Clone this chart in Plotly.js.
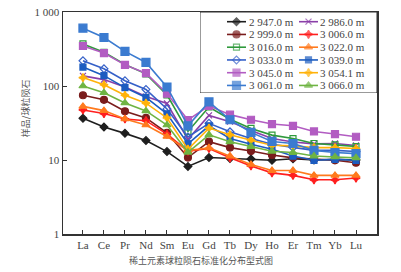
<!DOCTYPE html>
<html><head><meta charset="utf-8">
<script src="https://cdn.plot.ly/plotly-3.0.1.min.js"></script>
<style>html,body{margin:0;padding:0;background:#fff}#chart{width:401px;height:272px}</style>
</head><body><div id="chart"></div>
<script>
var categories = ['La','Ce','Pr','Nd','Sm','Eu','Gd','Tb','Dy','Ho','Er','Tm','Yb','Lu'];
var names = ['2 947.0 m','2 986.0 m','2 999.0 m','3 006.0 m','3 016.0 m','3 022.0 m','3 033.0 m','3 039.0 m','3 045.0 m','3 054.1 m','3 061.0 m','3 066.0 m'];
var s2947 = [36.6, 27.9, 22.9, 18.3, 13.0, 8.2, 10.8, 10.5, 10.3, 9.9, 10.4, 10.0, 10.2, 10.0];
var s2986 = [137, 122, 97, 72, 58, 19, 40, 33, 25, 19.5, 17.5, 16.5, 16.7, 15.7];
var s2999 = [75, 65, 45.6, 37, 23.3, 10.8, 17.7, 14.7, 13.2, 11.7, 10.7, 10.2, 9.9, 9.2];
var s3006 = [47.5, 42.4, 35.8, 34, 22.4, 13.2, 14.3, 10.7, 8.3, 6.7, 6.2, 5.4, 5.4, 5.7];
var s3016 = [370, 285, 195, 146, 76, 24.3, 52, 35.5, 26.7, 21.7, 19.5, 16.7, 16.0, 15.2];
var s3022 = [53, 46.5, 35.8, 29.7, 20.8, 13.4, 14.6, 11.3, 8.7, 7.2, 7.2, 6.2, 6.2, 6.2];
var s3033 = [219, 171, 118, 90, 49, 20.5, 31.3, 24, 19.5, 16.3, 14.8, 13.5, 13.5, 13.0];
var s3039 = [180, 138, 95, 70, 42, 16.5, 29, 19.5, 16.3, 14.0, 11.3, 9.9, 10.2, 9.9];
var s3045 = [347, 279, 193, 149, 79, 34.7, 54, 41, 35, 30.6, 29, 24.3, 22.4, 20.6];
var s3054 = [130, 104, 75, 58.6, 37, 14.0, 27, 21.9, 18.5, 15.8, 15.5, 14.7, 14.7, 14.3];
var s3061 = [605, 452, 294, 208, 97, 29, 61, 35, 23.6, 17.8, 16.7, 13.5, 12.6, 12.2];
var s3066 = [100, 81, 59, 46, 29.7, 12.7, 21.9, 17.6, 15.2, 13.1, 12.6, 11.3, 11.0, 10.7];
var series = [s2947, s2986, s2999, s3006, s3016, s3022, s3033, s3039, s3045, s3054, s3061, s3066];
var colors = ['#1e1e1e','#8a3fa8','#7a1c1c','#ff1f1f','#2f9a3c','#ff7a1e','#3560c8','#1c5cc0','#b25cc2','#ffb20a','#3b7bd0','#6fb443'];
var symbols = ['diamond','x-thin-open','circle','star-diamond','square-open','triangle-up','diamond-open','square','square','star-diamond','square','triangle-up'];
var sizes = [6,6,7,6,6,7,6,6,7,6,8,7];
var yTickVals = [1,10,100,1000];
var yTickText = ['1','10','100','1 000'];

// legend box layout (pixel units inside the legend area)
var LEG_W = 177, LEG_H = 81;
var legColLine = [[27, 46], [99, 118]];
var legColText = [48, 119];
var legRow0 = 9.7, legRowStep = 12.75;

var traces = series.map(function(s,i){
  return {
    x: categories, y: s, name: names[i], type: 'scatter', mode: 'lines+markers',
    line: {color: colors[i], width: 1.6},
    marker: {color: colors[i], symbol: symbols[i], size: sizes[i], line: {color: colors[i], width: 1.2}},
    showlegend: false
  };
});

var legendAnn = [];
series.forEach(function(s,i){
  var c = i % 2, r = Math.floor(i / 2);
  var ly = legRow0 + r * legRowStep;
  var lx0 = legColLine[c][0], lx1 = legColLine[c][1];
  traces.push({
    x: [lx0, (lx0 + lx1) / 2, lx1], y: [ly, ly, ly], xaxis: 'x2', yaxis: 'y2',
    type: 'scatter', mode: 'lines+markers', showlegend: false, cliponaxis: false, hoverinfo: 'skip',
    line: {color: colors[i], width: 1.6},
    marker: {color: colors[i], symbol: symbols[i], size: [0, sizes[i], 0], line: {color: colors[i], width: 1.2}}
  });
  legendAnn.push({text: names[i], xref: 'x2', yref: 'y2', x: legColText[c], y: ly, xanchor: 'left', yanchor: 'middle',
    showarrow: false, borderpad: 0, font: {family: 'Liberation Serif, serif', size: 11, color: '#444'}});
});

var serif = 'Liberation Serif, Times New Roman, serif';
var legX0 = 0.4363, legY0 = 1 - LEG_H / 222;
var layout = {
  width: 401, height: 272,
  margin: {l: 63, r: 24, t: 12, b: 38},
  paper_bgcolor: '#fff', plot_bgcolor: 'rgba(0,0,0,0)',
  showlegend: false,
  font: {family: serif, size: 11, color: '#444'},
  xaxis: {type: 'category', range: [-0.95, 14], showgrid: false, zeroline: false,
    showline: true, linecolor: '#333', linewidth: 1.5, mirror: true,
    ticks: 'inside', ticklen: 4, tickcolor: '#333', tickfont: {family: serif, size: 11, color: '#444'}},
  yaxis: {type: 'log', range: [0, 3], showgrid: false, zeroline: false,
    showline: true, linecolor: '#333', linewidth: 1.5, mirror: true,
    ticks: 'inside', ticklen: 4, tickcolor: '#333',
    tickvals: yTickVals, ticktext: yTickText, tickfont: {family: serif, size: 11, color: '#444'}},
  xaxis2: {domain: [legX0, 1], anchor: 'y2', range: [0, LEG_W], visible: false, fixedrange: true},
  yaxis2: {domain: [legY0, 1], anchor: 'x2', range: [LEG_H, 0], visible: false, fixedrange: true},
  shapes: [
    {type: 'rect', xref: 'x2', yref: 'y2', x0: 0, x1: LEG_W, y0: 0, y1: LEG_H,
     line: {color: '#333', width: 1}, fillcolor: '#fff', layer: 'below'}
  ],
  annotations: [
    {text: '样品/球粒陨石', xref: 'paper', yref: 'paper', x: -0.121, y: 0.567, xanchor: 'center', yanchor: 'middle',
     textangle: -90, showarrow: false, font: {family: 'Noto Sans CJK SC', size: 9, color: '#555'}},
    {text: '稀土元素球粒陨石标准化分布型式图', xref: 'paper', yref: 'paper', x: 0.438, y: -0.12,
     yanchor: 'middle', showarrow: false, font: {family: 'Noto Sans CJK SC', size: 9, color: '#555'}}
  ].concat(legendAnn)
};

Plotly.newPlot('chart', traces, layout, {displayModeBar: false, staticPlot: true});
</script></body></html>
